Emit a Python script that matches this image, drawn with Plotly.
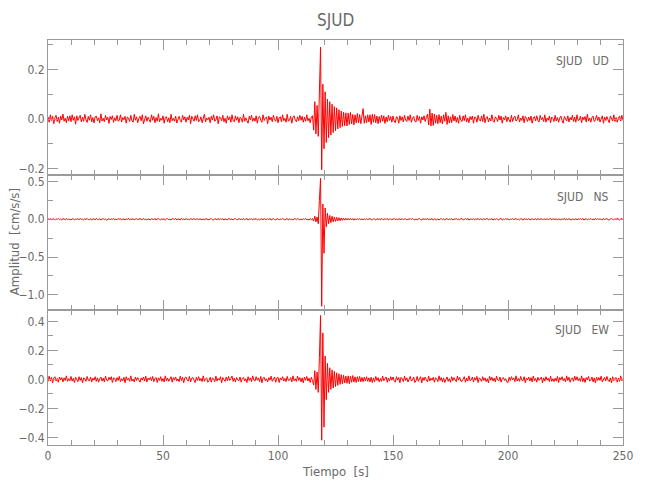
import numpy as np
import plotly.graph_objects as go
from plotly.subplots import make_subplots

DT = 0.5

# acceleration samples in units of 0.001 cm/s/s (every 0.5 s)
ud_milli = [
 9,-13,17,-6,11,-19,5,15,-10,7,-17,12,-4,20,-9,3,-15,11,-7,13,
 -11,17,-5,9,-21,13,-6,4,15,-12,7,-9,19,-3,-14,10,-5,17,-11,6,
 -16,9,12,-7,5,-15,21,-8,3,-11,15,-4,7,-18,10,-2,13,-13,5,-7,
 15,-9,-4,17,-12,6,-3,11,-17,8,4,-10,15,-7,-13,19,-5,9,-15,3,
 11,-7,17,-19,4,13,-9,7,-3,-13,17,-5,11,-15,6,-9,21,-11,3,-5,
 13,-17,7,9,-11,5,-15,19,-7,3,-9,12,-16,4,11,-6,-13,15,-3,9,
 -13,7,-4,15,-19,11,3,-9,13,-6,17,-11,-5,9,-15,6,19,-12,4,-3,
 7,-15,11,-4,17,-9,-3,13,-19,9,5,-7,15,-11,3,-17,13,-4,9,-13,
 17,-7,-11,13,-5,9,-15,7,3,-13,19,-9,5,-7,-17,11,-3,15,-9,4,
 -9,13,-17,7,11,-5,-13,17,-6,3,9,-19,12,-4,7,-11,15,-3,-9,11,
 -15,5,9,-11,17,-7,3,-13,19,-9,-4,11,-17,7,13,-3,-11,9,-7,15,
 -5,11,-13,7,-9,17,-7,3,-15,9,13,-45,70,-60,55,-70,145,290,-205,140,
 -120,110,-95,80,-75,70,-65,60,-55,50,-48,45,-40,38,-35,32,-30,28,-27,25,
 -28,24,-22,27,-20,18,-24,17,-16,22,-15,18,-19,14,42,-17,13,-15,17,-12,
 17,-22,19,-13,18,-15,12,-19,10,-14,16,-9,13,-18,8,-11,15,-6,10,-13,
 12,-8,-15,10,4,-17,13,-6,9,-12,15,-4,-10,12,-6,17,-13,4,10,-9,
 -12,15,-6,10,-17,9,-4,13,-10,6,20,-24,40,-28,24,-26,20,-17,15,-19,
 18,-15,12,-20,17,-9,27,-22,13,-16,9,-15,18,-8,12,-13,6,-17,15,-4,
 -10,13,-6,17,-12,4,-15,10,-3,12,-17,8,6,-13,15,-4,-8,12,-10,19,
 -15,6,10,-12,4,-8,17,-6,-13,9,3,-10,15,-4,12,-17,6,-3,13,-11,
 8,-4,-13,15,-10,6,12,-8,-3,17,-12,4,-6,13,-15,10,3,-10,8,-6,
 12,-17,4,10,-8,13,-6,-12,15,-3,6,-10,17,-13,4,-5,12,-15,8,3,
 -10,15,-8,6,-13,4,12,-6,-17,10,3,-8,13,-12,6,-4,15,-10,8,-13,
 17,-6,-4,12,-15,8,-3,10,-12,19,-8,4,-13,6,12,-10,-3,15,-6,8,
 -12,4,13,-17,8,-6,10,-3,-15,12,4,-8,17,-10,6,-13,3,12,-8,15,
 -6,
]

ns_milli = [
 8,-5,11,-9,3,6,-12,5,-2,9,-6,3,-11,8,2,-5,12,-8,3,-6,
 -9,5,6,-11,3,-2,9,-8,12,-5,2,-9,6,-3,11,-6,-5,8,-12,3,
 5,-8,12,-3,-6,9,-11,2,8,-5,3,-12,6,9,-8,5,-2,11,-9,3,
 -6,11,-2,8,-12,5,3,-9,6,-5,12,-8,2,-3,9,-11,5,8,-6,2,
 9,-3,-8,12,-5,2,-11,6,3,-9,8,-2,-6,11,-12,5,9,-3,-8,6,
 -5,8,-11,3,9,-6,2,-12,8,5,-3,11,-9,6,-2,-8,12,-5,3,-9,
 11,-6,3,-9,8,-2,-5,12,-8,3,6,-11,9,-3,-6,5,-12,8,2,-5,
 -8,3,9,-5,-11,8,2,-6,12,-9,5,-3,8,-12,6,3,-9,11,-2,-5,
 6,-11,5,8,-3,-9,12,-6,2,-5,9,-8,3,11,-12,5,-2,6,-9,8,
 -3,9,-8,2,-12,6,5,-9,11,-5,-2,8,-6,12,-11,3,9,-5,-8,2,
 8,-9,3,-6,11,-2,-8,5,9,-12,6,-3,2,-11,8,5,-6,9,-3,-8,
 5,-9,6,-3,11,-8,2,-12,8,-5,9,-25,40,-35,30,-60,250,540,-1150,200,
 -450,150,-100,80,-60,50,-45,40,-35,30,-28,25,-22,20,-18,16,-15,14,-12,12,
 -10,12,-9,11,-8,10,-12,7,-9,8,-6,10,-7,5,-8,6,-4,7,-5,3,
 9,-5,-8,6,3,-11,8,-2,5,-9,12,-3,-6,8,-5,11,-9,2,6,-8,
 -3,11,-6,5,-12,8,2,-5,9,-8,3,6,-11,5,-2,9,-6,12,-3,-8,
 6,-9,3,8,-5,-11,9,-2,5,-6,12,-8,3,-3,9,-12,6,2,-8,5,
 -11,3,8,-6,5,-9,2,11,-8,3,-5,9,-12,6,-2,8,-5,3,-9,11,
 5,-8,-3,9,-6,12,-11,3,2,-5,8,-9,6,-3,11,-8,5,-2,-6,9,
 -6,5,11,-9,3,-2,8,-12,6,-5,9,-3,-8,5,12,-11,2,-6,9,-3,
 8,-11,5,-3,9,-6,-2,11,-8,3,-9,6,5,-12,8,-3,2,-5,11,-8,
 -5,9,-8,3,6,-9,12,-5,-3,8,-11,5,2,-6,9,-8,3,11,-9,5,
 3,-6,9,-11,5,2,-8,6,-3,12,-9,5,-5,8,-2,-11,6,3,-8,9,
 -9,6,-2,8,-5,11,-12,3,6,-8,5,-3,9,-6,2,-9,12,-5,8,-3,
 6,-3,-9,11,-5,3,8,-6,-11,5,9,-2,-8,6,-3,12,-5,-9,3,8,
 -5,
]

ew_milli = [
 -16,22,-10,14,-24,8,18,-12,6,-20,16,-4,12,-18,10,-8,24,-14,4,-10,
 20,-12,6,-22,14,-4,-16,18,-8,12,-24,10,4,-14,20,-6,-10,16,-18,8,
 -6,18,-14,10,-20,4,16,-12,8,-18,22,-6,-12,14,-4,18,-22,10,6,-16,
 12,-8,20,-16,4,-10,14,-24,18,-6,8,-14,24,-12,2,-18,16,-8,12,-4,
 -20,10,-6,16,-12,22,-18,8,-4,14,-10,20,-16,6,12,-22,10,-8,18,-14,
 6,-18,24,-10,8,-14,4,18,-20,12,-6,16,-12,2,-16,22,-8,14,-24,10,
 16,-6,-12,20,-18,8,12,-4,-22,14,-8,18,-10,6,-16,24,-14,4,10,-20,
 -8,14,-20,10,4,-16,22,-12,6,-6,18,-24,12,-2,-14,16,-10,20,-8,6,
 22,-14,8,-18,12,-4,-10,16,-20,6,14,-12,4,-22,18,-8,10,-16,24,-6,
 -12,18,-6,10,-16,20,-24,8,14,-10,4,-18,12,-6,22,-14,2,16,-20,8,
 14,-22,10,-4,18,-12,6,-16,20,-8,-6,12,-18,24,-10,4,-14,22,-8,12,
 -18,10,-24,16,-6,20,-12,8,-22,14,-10,-40,60,-70,50,-90,150,440,-420,320,
 -330,160,-140,110,-90,80,-70,65,-60,55,-50,45,-42,38,-35,32,-30,28,-25,22,
 -28,24,-30,22,-20,26,-19,17,-22,18,-15,20,-17,13,-16,15,-12,18,-14,10,
 -18,14,-22,10,-16,20,-8,12,-18,6,-14,22,-10,4,16,-20,8,-12,18,-6,
 16,-10,-20,18,-6,12,-24,14,4,-16,22,-8,10,-18,6,20,-12,-4,16,-22,
 -10,20,-14,6,18,-24,12,-8,16,-4,-18,22,-12,8,-6,14,-20,10,4,-16,
 24,-8,12,-18,10,-22,6,16,-14,4,-20,18,-10,12,-4,-16,22,-6,14,-12,
 -14,6,18,-20,8,-12,24,-10,-4,16,-18,12,-6,20,-22,10,2,-14,18,-8,
 10,-16,4,-24,20,-6,14,-12,8,-18,22,-4,-10,16,-20,6,12,-8,4,-18,
 -22,14,-8,18,-4,10,-16,24,-12,6,-14,20,-6,-10,18,-24,8,-4,16,-12,
 12,-18,22,-10,6,-20,14,-8,4,16,-24,10,-12,18,-6,8,-16,22,-14,4,
 -16,8,-12,20,-22,12,-4,18,-10,6,-18,24,-8,14,-20,4,10,-14,22,-6,
 18,-10,6,-14,24,-16,8,-22,12,-4,20,-12,-6,16,-18,10,-24,14,-8,12,
 -8,22,-18,4,14,-12,20,-6,-16,10,-24,18,-10,6,12,-20,8,-14,24,-10,
 6,
]

station = "SJUD"
components = ["UD", "NS", "EW"]
y_ranges = [[-0.226, 0.319], [-1.2, 0.585], [-0.453, 0.478]]
y_dticks = [0.2, 0.5, 0.2]
y_minor = [0.1, 0.25, 0.1]
x_range = [0, 250]

traces = [ud_milli, ns_milli, ew_milli]

AX = "#9a9a9a"
TXT = "#6a6a6a"
FONT = "Liberation Sans Narrow, DejaVu Sans Condensed, Arial Narrow, sans-serif"

fig = make_subplots(rows=3, cols=1, shared_xaxes=True, vertical_spacing=0)

for i, vals in enumerate(traces):
    y = np.array(vals, dtype=float) / 1000.0
    t = np.arange(len(y)) * DT
    fig.add_trace(go.Scatter(x=t, y=y, mode="lines",
                             line=dict(color="#ff0000", width=1),
                             showlegend=False, hoverinfo="skip"),
                  row=i + 1, col=1)
    fig.update_yaxes(range=y_ranges[i], dtick=y_dticks[i], tick0=0,
                     tickformat=".1f",
                     minor=dict(dtick=y_minor[i], ticklen=5, ticks="inside",
                                tickcolor=AX, showgrid=False),
                     row=i + 1, col=1)
    fig.update_xaxes(range=x_range, dtick=50, tick0=0,
                     showticklabels=(i == 2),
                     minor=dict(dtick=10, ticklen=5, ticks="inside",
                                tickcolor=AX, showgrid=False),
                     row=i + 1, col=1)

fig.update_xaxes(ticks="inside", ticklen=10, tickcolor=AX, showline=True,
                 linecolor=AX, linewidth=1, mirror="allticks", showgrid=False,
                 zeroline=False, automargin=False,
                 tickfont=dict(family=FONT, size=12, color=TXT))
fig.update_yaxes(ticks="inside", ticklen=10, tickcolor=AX, showline=True,
                 linecolor=AX, linewidth=1, mirror="allticks", showgrid=False,
                 zeroline=False, automargin=False,
                 tickfont=dict(family=FONT, size=12, color=TXT))

annotations = []
label_y = [0.949, 0.612, 0.284]
for comp, ly in zip(components, label_y):
    annotations.append(dict(text=f"{station}&nbsp;&nbsp;&nbsp;{comp}", xref="paper", yref="paper",
                            x=0.979, y=ly, xanchor="right", yanchor="middle",
                            showarrow=False, font=dict(family=FONT, size=12, color=TXT)))
annotations.append(dict(text="Tiempo  [s]", xref="paper", yref="paper",
                        x=0.5, y=-0.065, xanchor="center", yanchor="middle",
                        showarrow=False, font=dict(family=FONT, size=13, color=TXT)))
annotations.append(dict(text="Amplitud  [cm/s/s]", xref="paper", yref="paper",
                        x=-0.059, y=0.501, xanchor="center", yanchor="middle",
                        textangle=-90, showarrow=False,
                        font=dict(family=FONT, size=13, color=TXT)))
# chart title, placed above the top panel
annotations.append(dict(text=station, xref="paper", yref="paper",
                        x=0.5, y=1.049, xanchor="center", yanchor="middle",
                        showarrow=False, font=dict(family=FONT, size=17, color=TXT)))

fig.update_layout(
    width=650, height=500,
    margin=dict(l=40, r=35, t=32, b=63),
    paper_bgcolor="white", plot_bgcolor="white",
    annotations=annotations,
    showlegend=False,
)

fig.write_html("out.html")
